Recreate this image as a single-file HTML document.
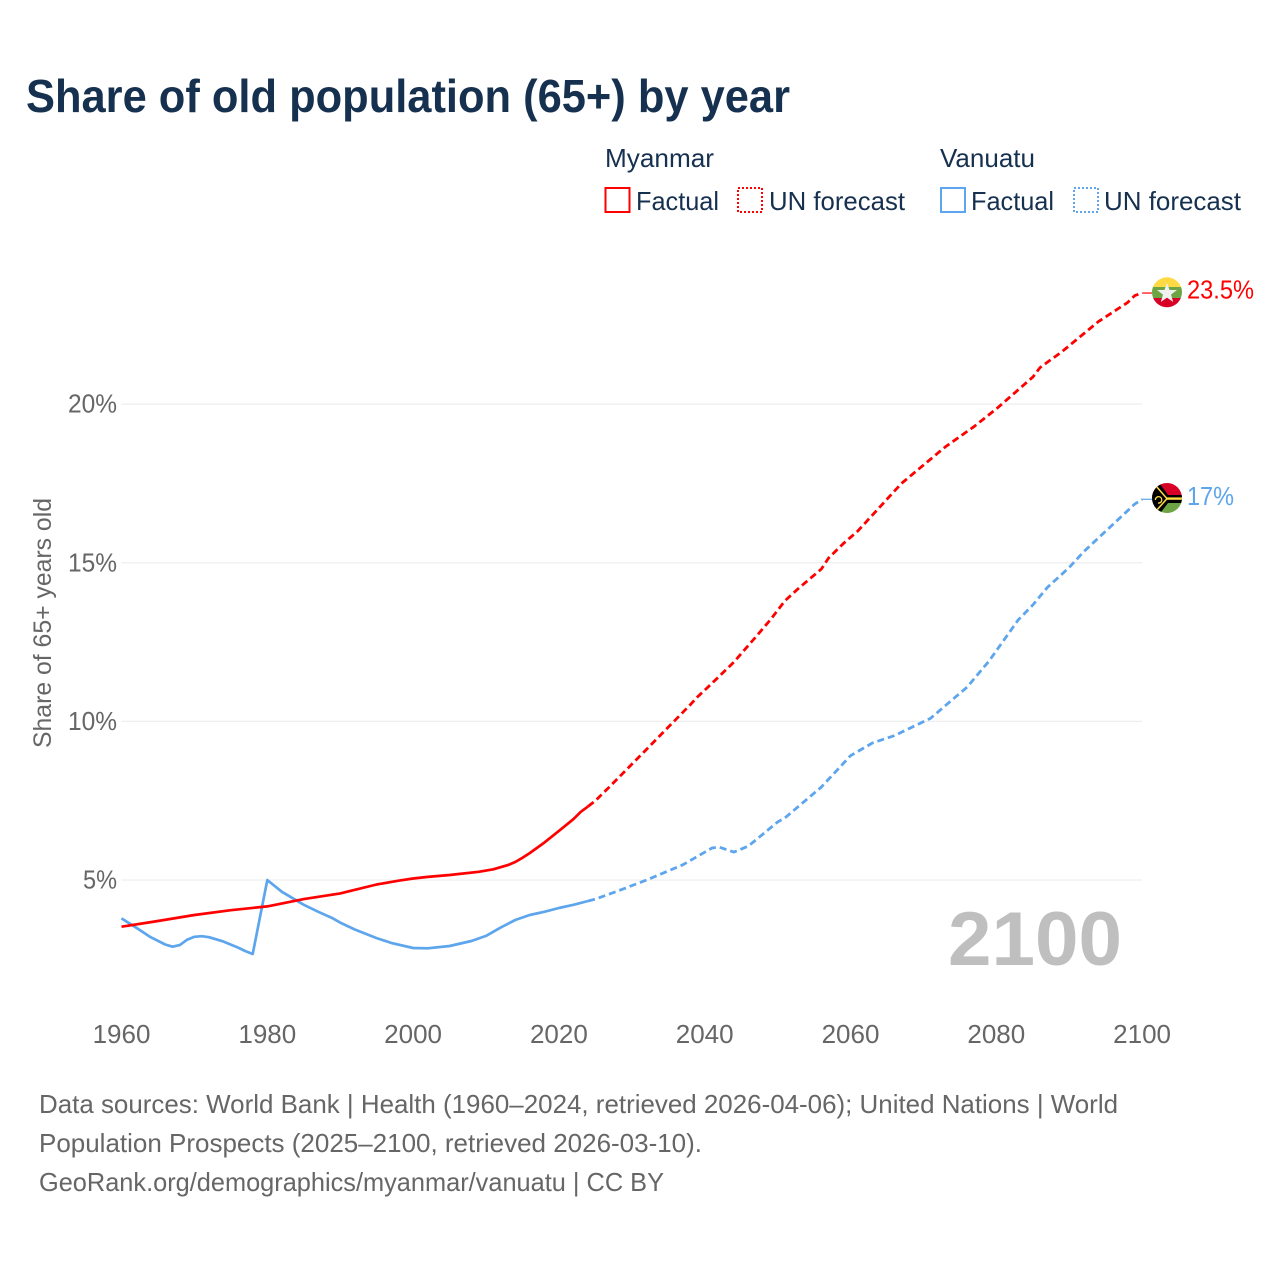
<!DOCTYPE html>
<html lang="en">
<head>
<meta charset="utf-8">
<title>Share of old population (65+) by year</title>
<style>
  html, body { margin: 0; padding: 0; background: #fff; }
  svg { display: block; font-family: "Liberation Sans", sans-serif; }
  .legend { fill: #16304f; font-size: 26px; }
  .note { fill: #666; font-size: 26px; }
</style>
</head>
<body>
<svg id="chart" xmlns="http://www.w3.org/2000/svg" width="1280" height="1280" viewBox="0 0 1280 1280">
  <defs>
    <clipPath id="clip-flag-mm"><circle cx="1167" cy="292.3" r="15"/></clipPath>
    <clipPath id="clip-flag-vu"><circle cx="1167" cy="498" r="15"/></clipPath>
  </defs>
  <rect width="1280" height="1280" fill="#fff"/>
  <text x="26" y="112" font-size="46" font-weight="700" fill="#16304f" textLength="764" lengthAdjust="spacingAndGlyphs">Share of old population (65+) by year</text>

  <g>
    <text class="legend" x="605" y="167" textLength="109" lengthAdjust="spacingAndGlyphs">Myanmar</text>
    <text class="legend" x="940" y="167" textLength="95" lengthAdjust="spacingAndGlyphs">Vanuatu</text>
    <rect x="605.5" y="188" width="24" height="24" fill="none" stroke="#ff0000" stroke-width="2"/>
    <text class="legend" x="636" y="210" textLength="83" lengthAdjust="spacingAndGlyphs">Factual</text>
    <rect x="738" y="188" width="24" height="24" fill="none" stroke="#ff0000" stroke-width="2" stroke-dasharray="2 2"/>
    <text class="legend" x="769" y="210" textLength="136" lengthAdjust="spacingAndGlyphs">UN forecast</text>
    <rect x="941" y="188" width="24" height="24" fill="none" stroke="#5da5ec" stroke-width="2"/>
    <text class="legend" x="971" y="210" textLength="83" lengthAdjust="spacingAndGlyphs">Factual</text>
    <rect x="1074" y="188" width="24" height="24" fill="none" stroke="#5da5ec" stroke-width="2" stroke-dasharray="2 2"/>
    <text class="legend" x="1104" y="210" textLength="137" lengthAdjust="spacingAndGlyphs">UN forecast</text>
  </g>

  <text transform="translate(51 623) rotate(-90)" text-anchor="middle" font-size="25" fill="#666" textLength="250" lengthAdjust="spacingAndGlyphs">Share of 65+ years old</text>

  <g id="grid"></g>
  <g id="yticks"></g>
  <g id="xticks"></g>

  <text x="948" y="965" font-size="76" font-weight="700" fill="#bfbfbf" textLength="174" lengthAdjust="spacingAndGlyphs">2100</text>

  <g id="series"></g>

  <g clip-path="url(#clip-flag-mm)">
    <rect x="1150" y="275" width="34" height="12" fill="#ffda44"/>
    <rect x="1150" y="287" width="34" height="11" fill="#6da544"/>
    <rect x="1150" y="298" width="34" height="12" fill="#d80027"/>
    <polygon points="1167,283 1169.6,290 1177,290 1171,294.6 1173.2,302 1167,297.6 1160.8,302 1163,294.6 1157,290 1164.4,290" fill="#f0f0f0"/>
  </g>
  <g clip-path="url(#clip-flag-vu)">
    <rect x="1150" y="481" width="34" height="17" fill="#d80027"/>
    <rect x="1150" y="499" width="34" height="16" fill="#6da544"/>
    <polygon points="1150,481 1158,481 1168,495 1184,495 1184,503 1168,503 1158,516 1150,516" fill="#000"/>
    <rect x="1150" y="497" width="34" height="0" fill="#000"/>
    <rect x="1166" y="497.4" width="18" height="2.4" fill="#ffda44"/>
    <polyline points="1156,486 1167,498.6 1156,511" fill="none" stroke="#ffda44" stroke-width="1.5"/>
    <path d="M1158 503 a3.2 3.2 0 1 0 -2.6 -3" fill="none" stroke="#ffda44" stroke-width="1.3"/>
  </g>

  <g id="end-labels"></g>

  <g>
    <text class="note" x="39" y="1113" textLength="1079" lengthAdjust="spacingAndGlyphs">Data sources: World Bank | Health (1960–2024, retrieved 2026-04-06); United Nations | World</text>
    <text class="note" x="39" y="1152" textLength="663" lengthAdjust="spacingAndGlyphs">Population Prospects (2025–2100, retrieved 2026-03-10).</text>
    <text class="note" x="39" y="1191" textLength="625" lengthAdjust="spacingAndGlyphs">GeoRank.org/demographics/myanmar/vanuatu | CC BY</text>
  </g>
</svg>
<script>
const xTickYears = [1960, 1980, 2000, 2020, 2040, 2060, 2080, 2100];
const yTickValues = [5, 10, 15, 20];

const myanmarFactualYears = [1960, 1965, 1970, 1975, 1980, 1985, 1990, 1995, 1998, 2000, 2002, 2005, 2009, 2011, 2013, 2014, 2015, 2016, 2018, 2020, 2022, 2023, 2024];
const myanmarFactualValues = [3.53, 3.71, 3.9, 4.05, 4.17, 4.4, 4.58, 4.86, 4.98, 5.05, 5.1, 5.16, 5.26, 5.34, 5.47, 5.57, 5.7, 5.85, 6.18, 6.55, 6.92, 7.15, 7.32];

const myanmarForecastYears = [2024, 2025, 2027, 2031, 2036, 2038, 2039, 2041, 2044, 2047, 2049, 2051, 2053, 2056, 2057, 2059, 2061, 2067, 2073, 2077, 2080, 2085, 2086, 2089, 2094, 2098, 2099, 2100];
const myanmarForecastValues = [7.32, 7.5, 7.95, 8.88, 10.05, 10.52, 10.77, 11.2, 11.87, 12.66, 13.2, 13.8, 14.22, 14.8, 15.15, 15.6, 16.0, 17.5, 18.65, 19.3, 19.85, 20.85, 21.15, 21.65, 22.6, 23.2, 23.42, 23.5];

const vanuatuFactualYears = [1960, 1962, 1964, 1966, 1967, 1968, 1969, 1970, 1971, 1972, 1974, 1976, 1977, 1978, 1980, 1982, 1985, 1987, 1989, 1990, 1992, 1995, 1997, 2000, 2002, 2005, 2008, 2010, 2012, 2014, 2016, 2018, 2020, 2022, 2024];
const vanuatuFactualValues = [3.79, 3.5, 3.2, 2.97, 2.9, 2.95, 3.12, 3.21, 3.23, 3.2, 3.06, 2.87, 2.76, 2.67, 5.0, 4.63, 4.22, 4.0, 3.79, 3.66, 3.44, 3.17, 3.02, 2.86, 2.85, 2.92, 3.08, 3.24, 3.5, 3.74, 3.9, 4.0, 4.12, 4.22, 4.34];

const vanuatuForecastYears = [2024, 2025, 2028, 2032, 2037, 2041, 2042, 2044, 2046, 2050, 2051, 2056, 2060, 2063, 2066, 2071, 2076, 2079, 2083, 2085, 2087, 2090, 2092, 2099, 2100];
const vanuatuForecastValues = [4.34, 4.4, 4.65, 5.0, 5.48, 6.01, 6.04, 5.88, 6.07, 6.83, 6.96, 7.93, 8.92, 9.32, 9.55, 10.1, 11.08, 11.9, 13.2, 13.67, 14.22, 14.85, 15.35, 16.85, 17.0];

const endLabels = ["23.5%", "17%"];
const RED = "#ff0000";
const BLUE = "#5da5ec";
const NS = "http://www.w3.org/2000/svg";

function xScale(year) { return 121.5 + (year - 1960) * 7.29; }
function yScale(value) { return 1038.7 - value * 31.73; }
function pointsOf(years, values) {
  return years.map(function (y, i) { return xScale(y).toFixed(1) + "," + yScale(values[i]).toFixed(1); }).join(" ");
}

const grid = document.getElementById("grid");
const yticks = document.getElementById("yticks");
yTickValues.forEach(function (v) {
  const line = document.createElementNS(NS, "line");
  
  
  line.setAttribute("x1", xScale(1960));
  line.setAttribute("x2", xScale(2100));
  line.setAttribute("y1", yScale(v));
  line.setAttribute("y2", yScale(v));
  line.setAttribute("stroke", "#eeeeee");
  line.setAttribute("stroke-width", "1.2");
  grid.appendChild(line);
  const t = document.createElementNS(NS, "text");
  
  
  t.setAttribute("x", 117);
  t.setAttribute("y", yScale(v) + 8.5);
  t.setAttribute("text-anchor", "end");
  t.setAttribute("font-size", "26");
  t.setAttribute("fill", "#666");
  t.setAttribute("textLength", v < 10 ? 34 : 49);
  t.setAttribute("lengthAdjust", "spacingAndGlyphs");
  t.textContent = v + "%";
  yticks.appendChild(t);
});

const xticks = document.getElementById("xticks");
xTickYears.forEach(function (yr) {
  const t = document.createElementNS(NS, "text");
  
  
  t.setAttribute("x", xScale(yr));
  t.setAttribute("y", 1043);
  t.setAttribute("text-anchor", "middle");
  t.setAttribute("font-size", "26");
  t.setAttribute("fill", "#666");
  t.textContent = yr;
  xticks.appendChild(t);
});

const series = document.getElementById("series");

const vanFactual = document.createElementNS(NS, "polyline");


vanFactual.setAttribute("points", pointsOf(vanuatuFactualYears, vanuatuFactualValues));
vanFactual.setAttribute("fill", "none");
vanFactual.setAttribute("stroke", BLUE);
vanFactual.setAttribute("stroke-width", "2.7");
vanFactual.setAttribute("stroke-linejoin", "round");
series.appendChild(vanFactual);

const vanForecast = document.createElementNS(NS, "polyline");


vanForecast.setAttribute("points", pointsOf(vanuatuForecastYears, vanuatuForecastValues));
vanForecast.setAttribute("fill", "none");
vanForecast.setAttribute("stroke", BLUE);
vanForecast.setAttribute("stroke-width", "2.8");
vanForecast.setAttribute("stroke-dasharray", "7 4");
vanForecast.setAttribute("stroke-linejoin", "round");
series.appendChild(vanForecast);

const myaFactual = document.createElementNS(NS, "polyline");


myaFactual.setAttribute("points", pointsOf(myanmarFactualYears, myanmarFactualValues));
myaFactual.setAttribute("fill", "none");
myaFactual.setAttribute("stroke", RED);
myaFactual.setAttribute("stroke-width", "2.7");
myaFactual.setAttribute("stroke-linejoin", "round");
series.appendChild(myaFactual);

const myaForecast = document.createElementNS(NS, "polyline");


myaForecast.setAttribute("points", pointsOf(myanmarForecastYears, myanmarForecastValues));
myaForecast.setAttribute("fill", "none");
myaForecast.setAttribute("stroke", RED);
myaForecast.setAttribute("stroke-width", "2.8");
myaForecast.setAttribute("stroke-dasharray", "7 4");
myaForecast.setAttribute("stroke-linejoin", "round");
series.appendChild(myaForecast);

const myaLast = myanmarForecastValues[myanmarForecastValues.length - 1];
const vanLast = vanuatuForecastValues[vanuatuForecastValues.length - 1];

const myaConnector = document.createElementNS(NS, "line");


myaConnector.setAttribute("x1", xScale(2100));
myaConnector.setAttribute("x2", xScale(2100) + 10);
myaConnector.setAttribute("y1", yScale(myaLast));
myaConnector.setAttribute("y2", yScale(myaLast));
myaConnector.setAttribute("stroke", RED);
myaConnector.setAttribute("stroke-width", "1.2");
series.appendChild(myaConnector);

const vanConnector = document.createElementNS(NS, "line");


vanConnector.setAttribute("x1", xScale(2100));
vanConnector.setAttribute("x2", xScale(2100) + 10);
vanConnector.setAttribute("y1", yScale(vanLast));
vanConnector.setAttribute("y2", yScale(vanLast));
vanConnector.setAttribute("stroke", BLUE);
vanConnector.setAttribute("stroke-width", "1.2");
series.appendChild(vanConnector);

const labelsGroup = document.getElementById("end-labels");

const myaLabel = document.createElementNS(NS, "text");


myaLabel.setAttribute("x", 1187);
myaLabel.setAttribute("y", yScale(myaLast) + 5.5);
myaLabel.setAttribute("font-size", "26");
myaLabel.setAttribute("fill", RED);
myaLabel.setAttribute("textLength", 67);
myaLabel.setAttribute("lengthAdjust", "spacingAndGlyphs");
myaLabel.textContent = endLabels[0];
labelsGroup.appendChild(myaLabel);

const vanLabel = document.createElementNS(NS, "text");


vanLabel.setAttribute("x", 1187);
vanLabel.setAttribute("y", yScale(vanLast) + 5.5);
vanLabel.setAttribute("font-size", "26");
vanLabel.setAttribute("fill", BLUE);
vanLabel.setAttribute("textLength", 47);
vanLabel.setAttribute("lengthAdjust", "spacingAndGlyphs");
vanLabel.textContent = endLabels[1];
labelsGroup.appendChild(vanLabel);
</script>
</body>
</html>
